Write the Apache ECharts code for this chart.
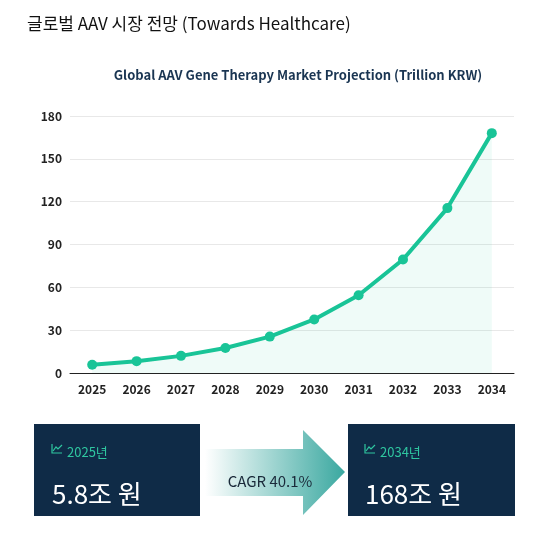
<!DOCTYPE html><html><head><meta charset="utf-8"><script src="https://cdn.jsdelivr.net/npm/echarts@6/dist/echarts.min.js"></script></head><body style="margin:0"><div id="c" style="width:545px;height:533px"></div><script>
const years=['2025','2026','2027','2028','2029','2030','2031','2032','2033','2034'];
const values=[5.8,8.3,12,17.5,25.5,37.5,54.5,79.5,115.5,168];
const yTicks=[0,30,60,90,120,150,180];
const F='"Noto Sans CJK KR","Noto Sans",sans-serif';
const ch=echarts.init(document.getElementById('c'));
function icon(x,y){return {type:'polyline',shape:{points:[[x,y],[x,y+9],[x+10,y+9]]},style:{stroke:'#2fc6a0',lineWidth:1.2,fill:null},children:[]};}
ch.setOption({
 title:[{text:'글로벌 AAV 시장 전망 (Towards Healthcare)',left:22,top:10,textStyle:{fontFamily:F,fontSize:17,fontWeight:'normal',color:'#111'}},
 {text:'Global AAV Gene Therapy Market Projection (Trillion KRW)',left:293,textAlign:'center',top:64,textStyle:{fontFamily:F,fontSize:13,fontWeight:'bold',color:'#1a3552'}}],
 grid:{left:70,right:31,top:116,bottom:160},
 xAxis:{type:'category',data:years,boundaryGap:true,axisTick:{show:false},axisLine:{lineStyle:{color:'#222'}},axisLabel:{fontFamily:F,fontSize:12,fontWeight:'bold',color:'#222',margin:10}},
 yAxis:{type:'value',min:0,max:180,interval:30,axisLabel:{fontFamily:F,fontSize:12,fontWeight:'bold',color:'#222',customValues:yTicks},splitLine:{lineStyle:{color:'#e8e8e8'}}},
 series:[{type:'line',data:values,symbol:'circle',symbolSize:10,lineStyle:{width:4,color:'#19c497'},itemStyle:{color:'#19c497'},areaStyle:{color:'rgba(25,196,151,0.1)'}}],
 graphic:[
  {type:'rect',shape:{x:34,y:424,width:166,height:92},style:{fill:'#0f2b47'}},
  {type:'rect',shape:{x:348,y:424,width:167,height:92},style:{fill:'#0f2b47'}},
  {type:'polygon',shape:{points:[[205,449],[303,449],[303,430],[345,472],[303,515],[303,496],[205,496]]},style:{fill:new echarts.graphic.LinearGradient(0,0,1,0,[{offset:0,color:'#ffffff'},{offset:1,color:'#3aa8a0'}])}},
  {type:'text',style:{text:'CAGR 40.1%',x:270,y:481,align:'center',verticalAlign:'middle',font:'15px '+F,fill:'#1a2a3a'}},
  {type:'polyline',shape:{points:[[52,444],[52,453],[62,453]]},style:{stroke:'#2fc6a0',lineWidth:1.2,fill:null}},
  {type:'polyline',shape:{points:[[53,451],[56,447],[58,449],[62,445]]},style:{stroke:'#2fc6a0',lineWidth:1.2,fill:null}},
  {type:'polyline',shape:{points:[[365,444],[365,453],[375,453]]},style:{stroke:'#2fc6a0',lineWidth:1.2,fill:null}},
  {type:'polyline',shape:{points:[[366,451],[369,447],[371,449],[375,445]]},style:{stroke:'#2fc6a0',lineWidth:1.2,fill:null}},
  {type:'text',style:{text:'2025년',x:67,y:452,verticalAlign:'middle',font:'13px '+F,fill:'#2fc6a0'}},
  {type:'text',style:{text:'2034년',x:380,y:452,verticalAlign:'middle',font:'13px '+F,fill:'#2fc6a0'}},
  {type:'text',style:{text:'5.8조 원',x:52,y:494,verticalAlign:'middle',font:'26px '+F,fill:'#fff'}},
  {type:'text',style:{text:'168조 원',x:365,y:494,verticalAlign:'middle',font:'26px '+F,fill:'#fff'}}
 ]
});
</script></body></html>
